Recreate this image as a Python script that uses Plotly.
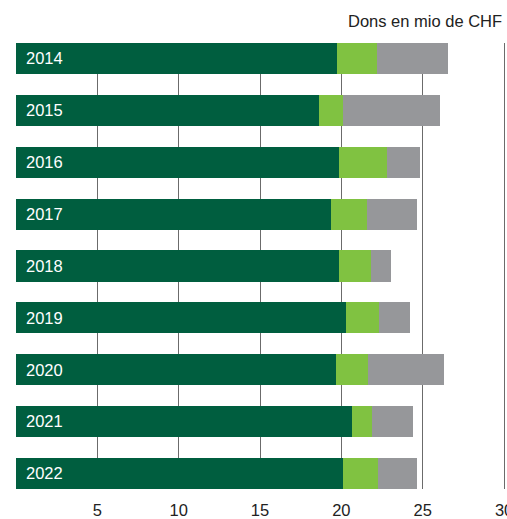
import plotly.graph_objects as go

years = ["2014", "2015", "2016", "2017", "2018", "2019", "2020", "2021", "2022"]
dark_values = [19.73, 18.62, 19.85, 19.36, 19.85, 20.28, 19.67, 20.65, 20.10]
light_values = [2.46, 1.46, 2.95, 2.21, 1.97, 2.03, 1.96, 1.23, 2.15]
gray_values = [4.34, 5.98, 2.03, 3.08, 1.23, 1.91, 4.68, 2.52, 2.40]
x_ticks = [5, 10, 15, 20, 25, 30]
title_text = "Dons en mio de CHF"

FONT = "Liberation Sans, Arial, sans-serif"

fig = go.Figure()
for vals, col in [(dark_values, "#005e3f"), (light_values, "#80c241"), (gray_values, "#96979a")]:
    fig.add_trace(go.Bar(
        y=years, x=vals, orientation="h",
        marker=dict(color=col, line=dict(width=0)),
        hoverinfo="x+y",
    ))

fig.update_layout(
    barmode="stack",
    bargap=0.4,
    width=507, height=519,
    margin=dict(l=16, r=1, t=43, b=30),
    plot_bgcolor="white", paper_bgcolor="white",
    showlegend=False,
    font=dict(family=FONT, size=16.5, color="#222222"),
    xaxis=dict(
        range=[0, 30.12],
        tickvals=x_ticks,
        showgrid=True, gridcolor="#6b6b6b", gridwidth=1,
        zeroline=True, zerolinecolor="#6b6b6b", zerolinewidth=1,
        showline=False, ticks="",
        tickfont=dict(size=16.5, color="#222222"),
        ticklabelstandoff=9,
        ticklabeloverflow="allow",
        automargin=False,
        fixedrange=True,
    ),
    yaxis=dict(
        type="category",
        range=[8.3, -0.3],
        showgrid=False, zeroline=False, showline=False, ticks="",
        ticklabelposition="inside",
        ticklabelstandoff=7,
        tickfont=dict(size=16.5, color="white"),
        automargin=False,
        fixedrange=True,
    ),
    annotations=[dict(
        text=title_text, xref="paper", yref="paper", x=1, y=1,
        xanchor="right", yanchor="bottom", xshift=-2, yshift=11, showarrow=False,
        font=dict(size=16.5, color="#222222", family=FONT),
    )],
)

fig.write_html(
    "out.html",
    config={"displayModeBar": False},
    post_script="document.body.style.margin='0';document.body.style.overflow='hidden';",
)
